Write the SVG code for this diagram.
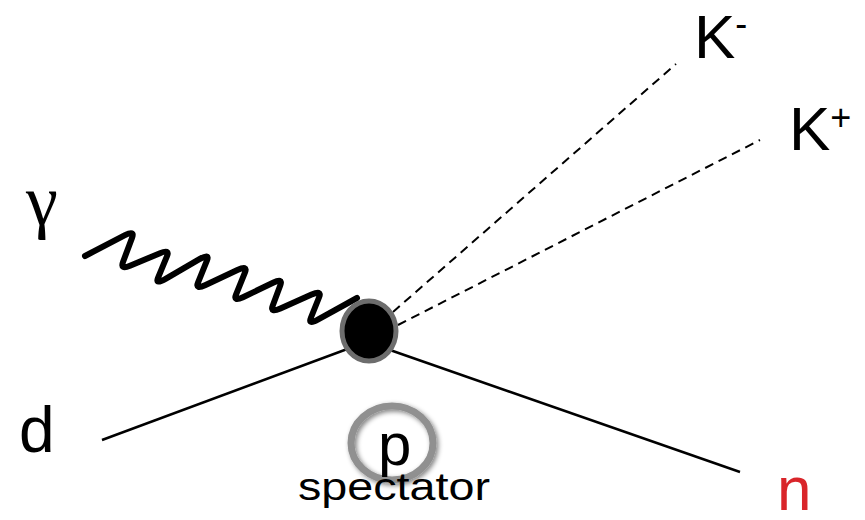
<svg xmlns="http://www.w3.org/2000/svg" width="865" height="520" viewBox="0 0 865 520">
<style>
.lbl{font-family:"Liberation Sans",Arial,sans-serif;fill:#000}
.solid{stroke:#000;stroke-width:2.5;fill:none}
.dash{stroke:#000;stroke-width:2;fill:none;stroke-dasharray:9 6}
</style>
<defs>
<filter id="sh" x="-30%" y="-30%" width="160%" height="160%">
<feGaussianBlur in="SourceAlpha" stdDeviation="2.5"/>
<feOffset dx="2" dy="2" result="b"/>
<feComponentTransfer><feFuncA type="linear" slope="0.5"/></feComponentTransfer>
<feMerge><feMergeNode/><feMergeNode in="SourceGraphic"/></feMerge>
</filter>
</defs>
<rect width="865" height="520" fill="#fff"/>
<g id="connectors">
<line class="solid" x1="102" y1="440" x2="350" y2="348"/>
<line class="solid" x1="390" y1="350" x2="740" y2="472"/>
<line class="dash" x1="393" y1="312" x2="676" y2="64"/>
<line class="dash" x1="398" y1="325" x2="760" y2="140"/>
<path id="photon" fill="none" stroke="#000" stroke-width="6" stroke-linejoin="round" stroke-linecap="round" d="M85,256 L125,235.2 Q135,230 132,238 L123,262 Q120,270 130,265.8 L160,253.2 Q170,249 167,256.2 L158,277.8 Q155,285 166,278.6 L199,259.4 Q210,253 207,260.4 L198,282.6 Q195,290 205.6,285 L237.4,270 Q248,265 245,272.4 L236,294.6 Q233,302 243,297.2 L273,282.8 Q283,278 280.4,285 L272.6,306 Q270,313 280.4,308.4 L311.6,294.6 Q322,290 319.2,297 L310.8,318 Q308,325 317.8,319.6 L357,298"/>
</g>
<g id="vertex">
<ellipse cx="369" cy="331" rx="27" ry="30" fill="#000" stroke="#6d6d6d" stroke-width="5"/>
</g>
<g id="spectator">
<ellipse cx="392" cy="443" rx="41" ry="37" fill="none" stroke="#909090" stroke-width="7" filter="url(#sh)"/>
<text class="lbl" x="378" y="465" font-size="60">p</text>
<text class="lbl" x="298" y="500" font-size="38" textLength="192" lengthAdjust="spacingAndGlyphs">spectator</text>
</g>
<g id="gamma"><text x="26" y="225" font-family="'Liberation Serif','DejaVu Serif',serif" font-size="72">γ</text></g>
<g id="d"><text class="lbl" x="19" y="452" font-size="64">d</text></g>
<g id="n"><text x="777" y="510" font-family="'Liberation Sans',Arial,sans-serif" font-size="62" fill="#d9252a">n</text></g>
<g id="Kminus"><text class="lbl" x="694" y="58" font-size="62">K<tspan font-size="36" dy="-22">-</tspan></text></g>
<g id="Kplus"><text class="lbl" x="789" y="150" font-size="62">K<tspan font-size="36" dy="-20">+</tspan></text></g>
</svg>
